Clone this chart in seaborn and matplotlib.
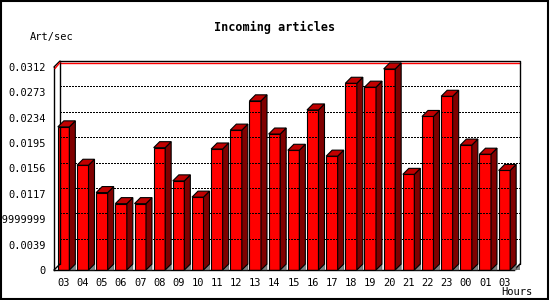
import matplotlib
matplotlib.use("Agg")
import matplotlib.pyplot as plt
import seaborn as sns
import pandas as pd
import numpy as np
from matplotlib.patches import Polygon, Rectangle
from matplotlib.lines import Line2D

hours = ["03", "04", "05", "06", "07", "08", "09", "10", "11", "12", "13", "14",
         "15", "16", "17", "18", "19", "20", "21", "22", "23", "00", "01", "03"]
values = [0.0220, 0.0161, 0.0119, 0.0102, 0.0102, 0.0188, 0.0137, 0.0112,
          0.0186, 0.0215, 0.0260, 0.0209, 0.0184, 0.0246, 0.0175, 0.0287,
          0.0281, 0.0309, 0.0147, 0.0236, 0.0267, 0.0192, 0.0178, 0.0153]
ytick_vals = [0, 0.0039, 0.0078, 0.0117, 0.0156, 0.0195, 0.0234, 0.0273, 0.0312]
ytick_labels = ["0", "0.0039", "0.0077999999999999", "0.0117", "0.0156",
                "0.0195", "0.0234", "0.0273", "0.0312"]
title = "Incoming articles"
ylabel = "Art/sec"
xlabel = "Hours"

sns.set_style("white")
plt.rcParams["font.family"] = ["DejaVu Sans Mono"]
plt.rcParams["text.color"] = "black"
plt.rcParams["xtick.color"] = "black"
plt.rcParams["ytick.color"] = "black"
plt.rcParams["axes.labelcolor"] = "black"

W, H = 550, 300
fig = plt.figure(figsize=(5.5, 3.0), dpi=100)
ax = fig.add_axes([54 / W, 30 / H, 460 / W, 203 / H])
ax.set_facecolor("none")

df = pd.DataFrame({"slot": np.arange(len(values)), "value": values})
sns.barplot(data=df, x="slot", y="value", color="#ff0000", saturation=1,
            width=0.6, edgecolor="black", linewidth=0.8, ax=ax, zorder=3)

n = len(values)
ax.set_xlim(-0.5, n - 0.5)
ax.set_ylim(0, 0.0312)

# ticks
ax.set_xticks(np.arange(n + 1) - 0.5)
ax.set_xticklabels([""] * (n + 1))
ax.set_xticks(np.arange(n), minor=True)
ax.set_xticklabels(hours, minor=True)
ax.tick_params(axis="x", which="major", length=4, width=0.8, color="black", direction="out")
ax.tick_params(axis="x", which="minor", length=0, labelsize=7.5, pad=6, labelcolor="black")
ax.set_yticks(ytick_vals)
ax.set_yticklabels(ytick_labels)
ax.tick_params(axis="y", length=4, width=0.8, color="black", direction="out", labelsize=7.5,
               pad=2, labelcolor="black")
ax.set_xlabel("")
ax.set_ylabel("")
for s in ["top", "right"]:
    ax.spines[s].set_visible(False)
for s in ["left", "bottom"]:
    ax.spines[s].set_color("black")
    ax.spines[s].set_linewidth(1.0)
    ax.spines[s].set_zorder(5)

fig.canvas.draw()
D = 6.0  # depth in pixels
T = ax.transData


def disp(x, y):
    return T.transform((x, y))


ident = matplotlib.transforms.IdentityTransform()

# back plane and gridlines
bl = disp(-0.5, 0) + D
tl = disp(-0.5, 0.0312) + D
tr = disp(n - 0.5, 0.0312) + D
br = disp(n - 0.5, 0) + D
for v in ytick_vals[1:-1]:
    a = disp(-0.5, v) + D
    b = disp(n - 0.5, v) + D
    fig.add_artist(Line2D([a[0], b[0]], [a[1], b[1]], transform=ident, color="black",
                          lw=0.72, linestyle=(0, (2, 2)), antialiased=False, zorder=1))
# red top line
a = disp(-0.5, 0.0312) + D - np.array([0, 1.5])
b = disp(n - 0.5, 0.0312) + D - np.array([0, 1.5])
fig.add_artist(Line2D([a[0], b[0]], [a[1], b[1]], transform=ident, color="red", lw=1.0, zorder=1))
fig.add_artist(Line2D([bl[0], tl[0], tr[0], br[0]], [bl[1], tl[1], tr[1], br[1]],
                      transform=ident, color="black", lw=1.0, zorder=1.1))
# diagonals
f0 = disp(-0.5, 0)
ft = disp(-0.5, 0.0312)
fr = disp(n - 0.5, 0)
fig.add_artist(Line2D([ft[0], tl[0]], [ft[1], tl[1]], transform=ident, color="black", lw=1.0, zorder=1.2))
fig.add_artist(Line2D([ft[0] + 1, tl[0]], [ft[1] - 1.5, tl[1] - 1.5], transform=ident, color="red", lw=1.0, zorder=1.2))
fig.add_artist(Line2D([f0[0], bl[0]], [f0[1], bl[1]], transform=ident, color="black", lw=1.0, zorder=1.2))
fig.add_artist(Line2D([fr[0], br[0]], [fr[1], br[1]], transform=ident, color="black", lw=1.0, zorder=1.2))
fig.add_artist(Polygon([fr, br, [br[0], fr[1]]], closed=True, transform=ident,
                       facecolor="#808080", edgecolor="none", zorder=1.15))

# 3D faces for bars
for p in ax.patches:
    x0 = p.get_x()
    x1 = x0 + p.get_width()
    h = p.get_height()
    A = disp(x0, h)
    B = disp(x1, h)
    C = disp(x1, 0)
    side = [C, B, B + D, C + D]
    top = [A, B, B + D, A + D]
    fig.add_artist(Polygon([C, C + D, [C[0] + D, C[1]]], closed=True, transform=ident,
                           facecolor="#808080", edgecolor="#404040", lw=0.4, zorder=2))
    fig.add_artist(Polygon(side, closed=True, transform=ident, facecolor="#800000",
                           edgecolor="black", lw=0.8, zorder=2.5))
    fig.add_artist(Polygon(top, closed=True, transform=ident, facecolor="#c00000",
                           edgecolor="black", lw=0.8, zorder=2.5))

# texts
fig.text(275 / W, 1 - 27 / H, title, ha="center", va="center", fontsize=8.5,
         fontweight="bold", color="black")
fig.text(30 / W, 1 - 37 / H, ylabel, ha="left", va="center", fontsize=7.5, color="black")
fig.text(533 / W, 1 - 292 / H, xlabel, ha="right", va="center", fontsize=7.5, color="black")

# frame
fig.add_artist(Rectangle((0.5 / W, 1.5 / H), 547 / W, 298 / H, transform=fig.transFigure,
                         fill=False, edgecolor="black", lw=1.5, zorder=10))

fig.savefig("out.png", dpi=100, facecolor="white")
